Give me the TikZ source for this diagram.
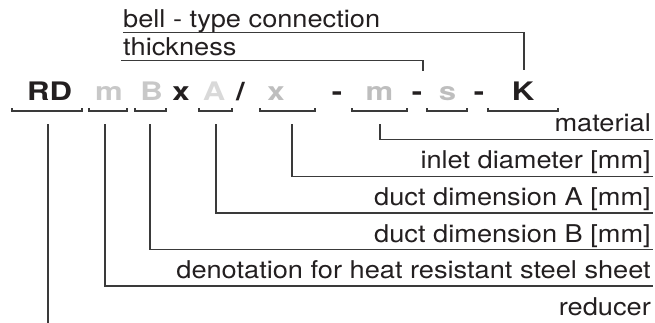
\documentclass[tikz,border=0pt]{standalone}
\usepackage{fontspec}
\setmainfont{TeX Gyre Heros}[FakeStretch=1.11]
\newfontfamily\codefont{TeX Gyre Heros}[FakeStretch=1.22]
\definecolor{ink}{HTML}{231F20}
\definecolor{lineink}{HTML}{3A3A3A}
\definecolor{grayA}{HTML}{C8C8C8}
\definecolor{grayB}{HTML}{D9D9D9}
\definecolor{grayC}{HTML}{BEBEBE}
\begin{document}
\begin{tikzpicture}[x=1pt,y=-1pt,
  lbl/.style={inner sep=0pt,anchor=base east,text=ink,font=\fontsize{24.5pt}{28pt}\selectfont},
  toplbl/.style={inner sep=0pt,anchor=base west,text=ink,font=\fontsize{24.5pt}{28pt}\selectfont},
  code/.style={inner sep=0pt,anchor=base,font=\codefont\bfseries\fontsize{25.5pt}{28pt}\selectfont},
  conn/.style={draw=lineink,line width=1.1pt},
  brk/.style={draw=lineink,line width=1.1pt}]
\useasboundingbox (0,0) rectangle (655,322);

% top labels
\node[toplbl] (bell) at (123,27) {bell - type connection};
\node[toplbl] (thick) at (123,55) {thickness};
\coordinate (bellL) at (123,32.5);
\coordinate (bellK) at (524,70);
\coordinate (thickL) at (121,60.7);
\coordinate (thickS) at (423,71);
\draw[conn] (bellL) -| (bellK);
\draw[conn] (thickL) -| (thickS);

% code row
\node[code,text=ink]   (cRD) at (49.5,100) {RD};
\node[code,text=grayA] (cm1) at (109,100) {m};
\node[code,text=grayA] (cB)  at (151.5,100) {B};
\node[code,text=ink]   (cx1) at (181,100) {x};
\node[code,text=grayB] (cA)  at (214,100) {A};
\node[code,text=ink]   (csl) at (240.5,100) {/};
\node[code,text=grayC] (cx2) at (276,100) {x};
\node[code,text=ink]   (cd1) at (337,100) {-};
\node[code,text=grayC] (cm2) at (379.5,100) {m};
\node[code,text=ink]   (cd2) at (417,100) {-};
\node[code,text=grayC] (cs)  at (447.5,100) {s};
\node[code,text=ink]   (cd3) at (479,100) {-};
\node[code,text=ink]   (cK)  at (523,100) {K};

% brackets
\foreach \a/\b in {12/82,89/127,135/166,199/232,260/315,352/407,427/467,488/558}
  \draw[brk] (\a,108) -- (\a,111) -- (\b,111) -- (\b,108);

% right labels
\node[lbl] (lmat) at (651,131) {material};
\node[lbl] (linl) at (651,168) {inlet diameter [mm]};
\node[lbl] (lA)   at (651,205) {duct dimension A [mm]};
\node[lbl] (lB)   at (651,242) {duct dimension B [mm]};
\node[lbl] (lden) at (651,278) {denotation for heat resistant steel sheet};
\node[lbl] (lred) at (651,315) {reducer};

% connector start points under brackets
\coordinate (vRD) at (48,124);
\coordinate (vm1) at (105,124);
\coordinate (vB)  at (150,124);
\coordinate (vA)  at (216,124);
\coordinate (vx2) at (292,124);
\coordinate (vm2) at (380,124);
% connector ends at right
\coordinate (emat) at (653,139.5);
\coordinate (einl) at (653,176.5);
\coordinate (eA)   at (653,213);
\coordinate (eB)   at (653,249.5);
\coordinate (eden) at (653,286);
\coordinate (ered) at (48,330);

\draw[conn] (vm2) |- (emat);
\draw[conn] (vx2) |- (einl);
\draw[conn] (vA)  |- (eA);
\draw[conn] (vB)  |- (eB);
\draw[conn] (vm1) |- (eden);
\draw[conn] (vRD) -- (ered);
\end{tikzpicture}
\end{document}
